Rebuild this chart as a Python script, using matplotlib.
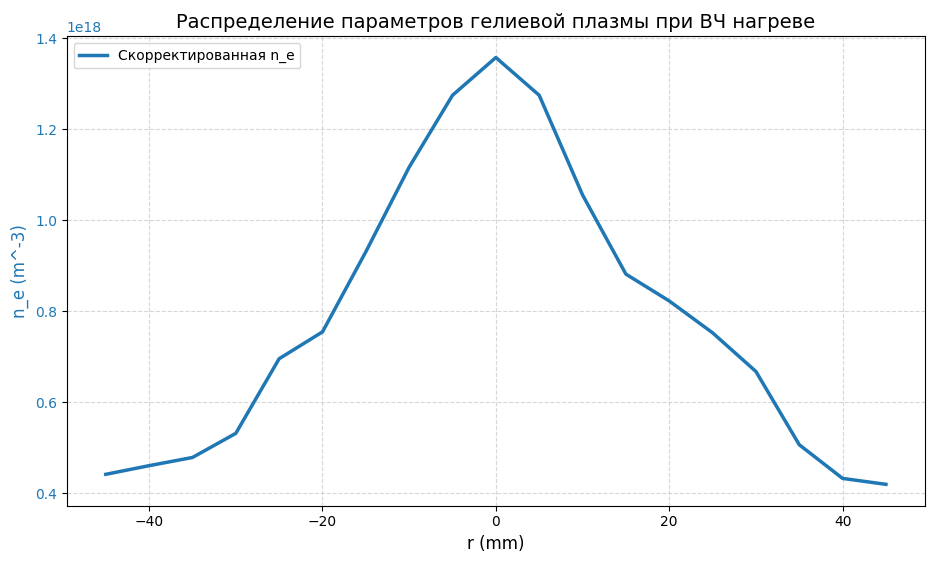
import matplotlib
matplotlib.use("Agg")
import matplotlib.pyplot as plt

r = [-45, -40, -35, -30, -25, -20, -15, -10, -5, 0, 5, 10, 15, 20, 25, 30, 35, 40, 45]
ne = [0.442, 0.461, 0.479, 0.532, 0.696, 0.755, 0.931, 1.117, 1.275, 1.358,
      1.275, 1.056, 0.882, 0.823, 0.753, 0.668, 0.507, 0.433, 0.420]
ne = [v * 1e18 for v in ne]

fig, ax = plt.subplots(figsize=(9.4, 5.65), dpi=100)
fig.subplots_adjust(left=0.071, right=0.984, top=0.936, bottom=0.105)
ax.plot(r, ne, color="tab:blue", lw=2.5, label="Скорректированная n_e")
ax.set_xlabel("r (mm)", fontsize=12)
ax.set_ylabel("n_e (m^-3)", fontsize=12, color="tab:blue")
ax.tick_params(axis="y", labelcolor="tab:blue")
ax.yaxis.get_offset_text().set_color("tab:blue")
ax.set_title("Распределение параметров гелиевой плазмы при ВЧ нагреве", fontsize=14)
ax.grid(True, linestyle="--", alpha=0.5)
ax.legend(loc="upper left")
fig.savefig("out.png")
